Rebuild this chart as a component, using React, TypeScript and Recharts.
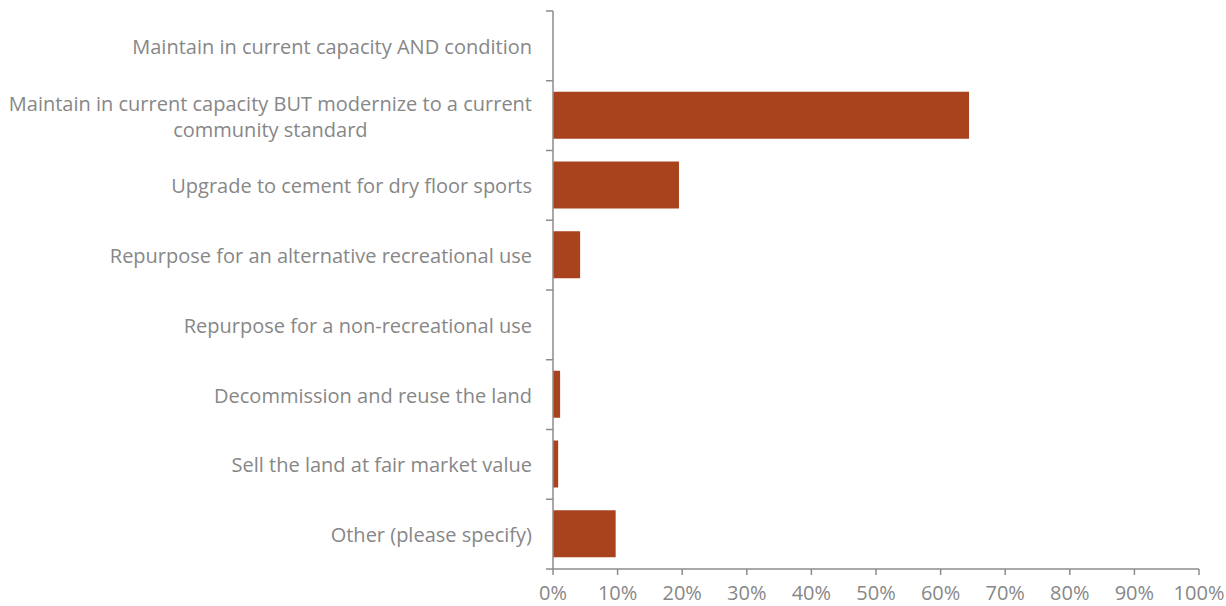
import { Bar, BarChart, XAxis, YAxis } from "recharts";

const categories = [
  "Maintain in current capacity AND condition",
  "Maintain in current capacity BUT modernize to a current community standard",
  "Upgrade to cement for dry floor sports",
  "Repurpose for an alternative recreational use",
  "Repurpose for a non-recreational use",
  "Decommission and reuse the land",
  "Sell the land at fair market value",
  "Other (please specify)",
];
const responses = [0, 64.4, 19.5, 4.2, 0, 1.1, 0.8, 9.7];
const pctTicks = [0, 10, 20, 30, 40, 50, 60, 70, 80, 90, 100];

const BAR_COLOR = "#a9431d";
const AXIS_COLOR = "#8c8c8c";
const TEXT_COLOR = "#878787";
const FONT = "'Open Sans', 'Noto Sans', sans-serif";
const FONT_SIZE = 20;

const W = 1226;
const H = 606;
const TOP = 11;
const X_AXIS_H = 37;
const PLOT_H = H - TOP - X_AXIS_H;
const LABEL_GAP = 21;
const MAX_LINE = 56;

let canvas: HTMLCanvasElement | null = null;
function textWidth(s: string): number {
  if (!canvas) canvas = document.createElement("canvas");
  const ctx = canvas.getContext("2d");
  if (!ctx) return s.length * 9.5;
  ctx.font = `${FONT_SIZE}px ${FONT}`;
  return ctx.measureText(s).width;
}

function wrap(label: string): string[] {
  if (label.length <= MAX_LINE) return [label];
  const words = label.split(" ");
  const lines: string[] = [];
  let cur = "";
  for (const w of words) {
    const next = cur ? cur + " " + w : w;
    if (next.length > MAX_LINE && cur) {
      lines.push(cur);
      cur = w;
    } else cur = next;
  }
  if (cur) lines.push(cur);
  return lines;
}

function CategoryTick(props: any) {
  const { x, y, payload, index } = props;
  const band = PLOT_H / categories.length;
  const axisX = x + LABEL_GAP;
  const lines = wrap(String(payload.value));
  const lineH = 26;
  const top = y - ((lines.length - 1) * lineH) / 2;
  const widest = Math.max(...lines.map(textWidth));
  const centerX = x - widest / 2;
  return (
    <g>
      <line x1={axisX - 7} x2={axisX} y1={y - band / 2} y2={y - band / 2} stroke={AXIS_COLOR} strokeWidth={1.5} />
      {index === categories.length - 1 && (
        <line x1={axisX - 7} x2={axisX} y1={y + band / 2} y2={y + band / 2} stroke={AXIS_COLOR} strokeWidth={1.5} />
      )}
      <text
        fill={TEXT_COLOR}
        fontSize={FONT_SIZE}
        fontFamily={FONT}
        dominantBaseline="central"
        textAnchor={lines.length > 1 ? "middle" : "end"}
      >
        {lines.map((l, i) => (
          <tspan key={i} x={lines.length > 1 ? centerX : x} y={top + i * lineH}>
            {l}
          </tspan>
        ))}
      </text>
    </g>
  );
}

export default function App() {
  const data = categories.map((c, i) => ({ category: c, value: responses[i] }));
  return (
    <div style={{ width: W, height: H, background: "#fff" }}>
      <style>{"body{margin:0}"}</style>
      <BarChart
        width={W}
        height={H}
        data={data}
        layout="vertical"
        margin={{ top: TOP, right: 27, left: 0, bottom: 0 }}
      >
        <XAxis
          type="number"
          domain={[0, 100]}
          ticks={pctTicks}
          tickFormatter={(v) => `${v}%`}
          height={X_AXIS_H}
          stroke={AXIS_COLOR}
          axisLine={{ stroke: AXIS_COLOR, strokeWidth: 1.5 }}
          tickLine={{ stroke: AXIS_COLOR, strokeWidth: 1.5 }}
          tickSize={6}
          tickMargin={11}
          tick={{ fill: TEXT_COLOR, fontSize: FONT_SIZE, fontFamily: FONT }}
          interval={0}
        />
        <YAxis
          type="category"
          dataKey="category"
          width={553}
          axisLine={{ stroke: AXIS_COLOR, strokeWidth: 1.5 }}
          tickLine={false}
          tickSize={0}
          tickMargin={LABEL_GAP}
          tick={<CategoryTick />}
          interval={0}
        />
        <Bar dataKey="value" fill={BAR_COLOR} barSize={47} isAnimationActive={false} />
      </BarChart>
    </div>
  );
}
